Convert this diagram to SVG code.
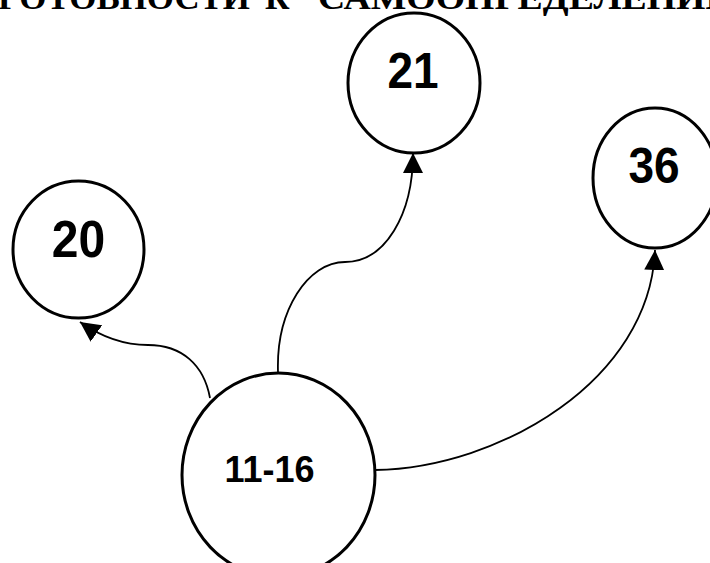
<svg xmlns="http://www.w3.org/2000/svg" width="710" height="563" viewBox="0 0 710 563">
  <style>
    .node { fill: #ffffff; stroke: #000000; stroke-width: 3; }
    .lbl { font-family: "Liberation Sans", Arial, sans-serif; font-weight: bold; fill: #000000; text-anchor: middle; }
    .title { font-family: "Liberation Serif", "Times New Roman", serif; font-weight: bold; font-size: 34px; fill: #000000; }
    .edge { fill: none; stroke: #000000; stroke-width: 1.8; }
  </style>
  <defs>
    <marker id="arrow" markerUnits="userSpaceOnUse" markerWidth="20" markerHeight="20" refX="20" refY="10" orient="auto" viewBox="0 0 20 20">
      <path d="M0,0 L20,10 L0,20 z" fill="#000000"/>
    </marker>
  </defs>
  <rect width="710" height="563" fill="#ffffff"/>
  <text class="title" y="9"><tspan x="-2" textLength="252" lengthAdjust="spacingAndGlyphs">ГОТОВНОСТИ</tspan><tspan x="265">К</tspan><tspan x="318" textLength="430" lengthAdjust="spacingAndGlyphs">САМООПРЕДЕЛЕНИЮ</tspan></text>
  <g id="edges">
    <path class="edge" d="M210,398 C204,365 182,345 148,345 C122,345 100,336 80,322" marker-end="url(#arrow)"/>
    <path class="edge" d="M278,372 C276,310 308,262 345,262 C385,262 413,215 413,153" marker-end="url(#arrow)"/>
    <path class="edge" d="M375,470 C500,468 650,380 655,250" marker-end="url(#arrow)"/>
  </g>
  <g id="node-20">
    <ellipse class="node" cx="78.5" cy="249.5" rx="65.5" ry="68.5"/>
    <text class="lbl" font-size="48" transform="translate(78.5,257) scale(1,1.07)">20</text>
  </g>
  <g id="node-21">
    <ellipse class="node" cx="414" cy="83" rx="66" ry="70"/>
    <text class="lbl" font-size="46" transform="translate(413,88) scale(1,1.08)">21</text>
  </g>
  <g id="node-36">
    <ellipse class="node" cx="655" cy="178" rx="62" ry="70"/>
    <text class="lbl" font-size="46" transform="translate(654,183) scale(1,1.08)">36</text>
  </g>
  <g id="node-11-16">
    <ellipse class="node" cx="278.5" cy="475" rx="96.5" ry="102"/>
    <text class="lbl" font-size="36" transform="translate(269.5,482) scale(1,1.05)">11-16</text>
  </g>
</svg>
